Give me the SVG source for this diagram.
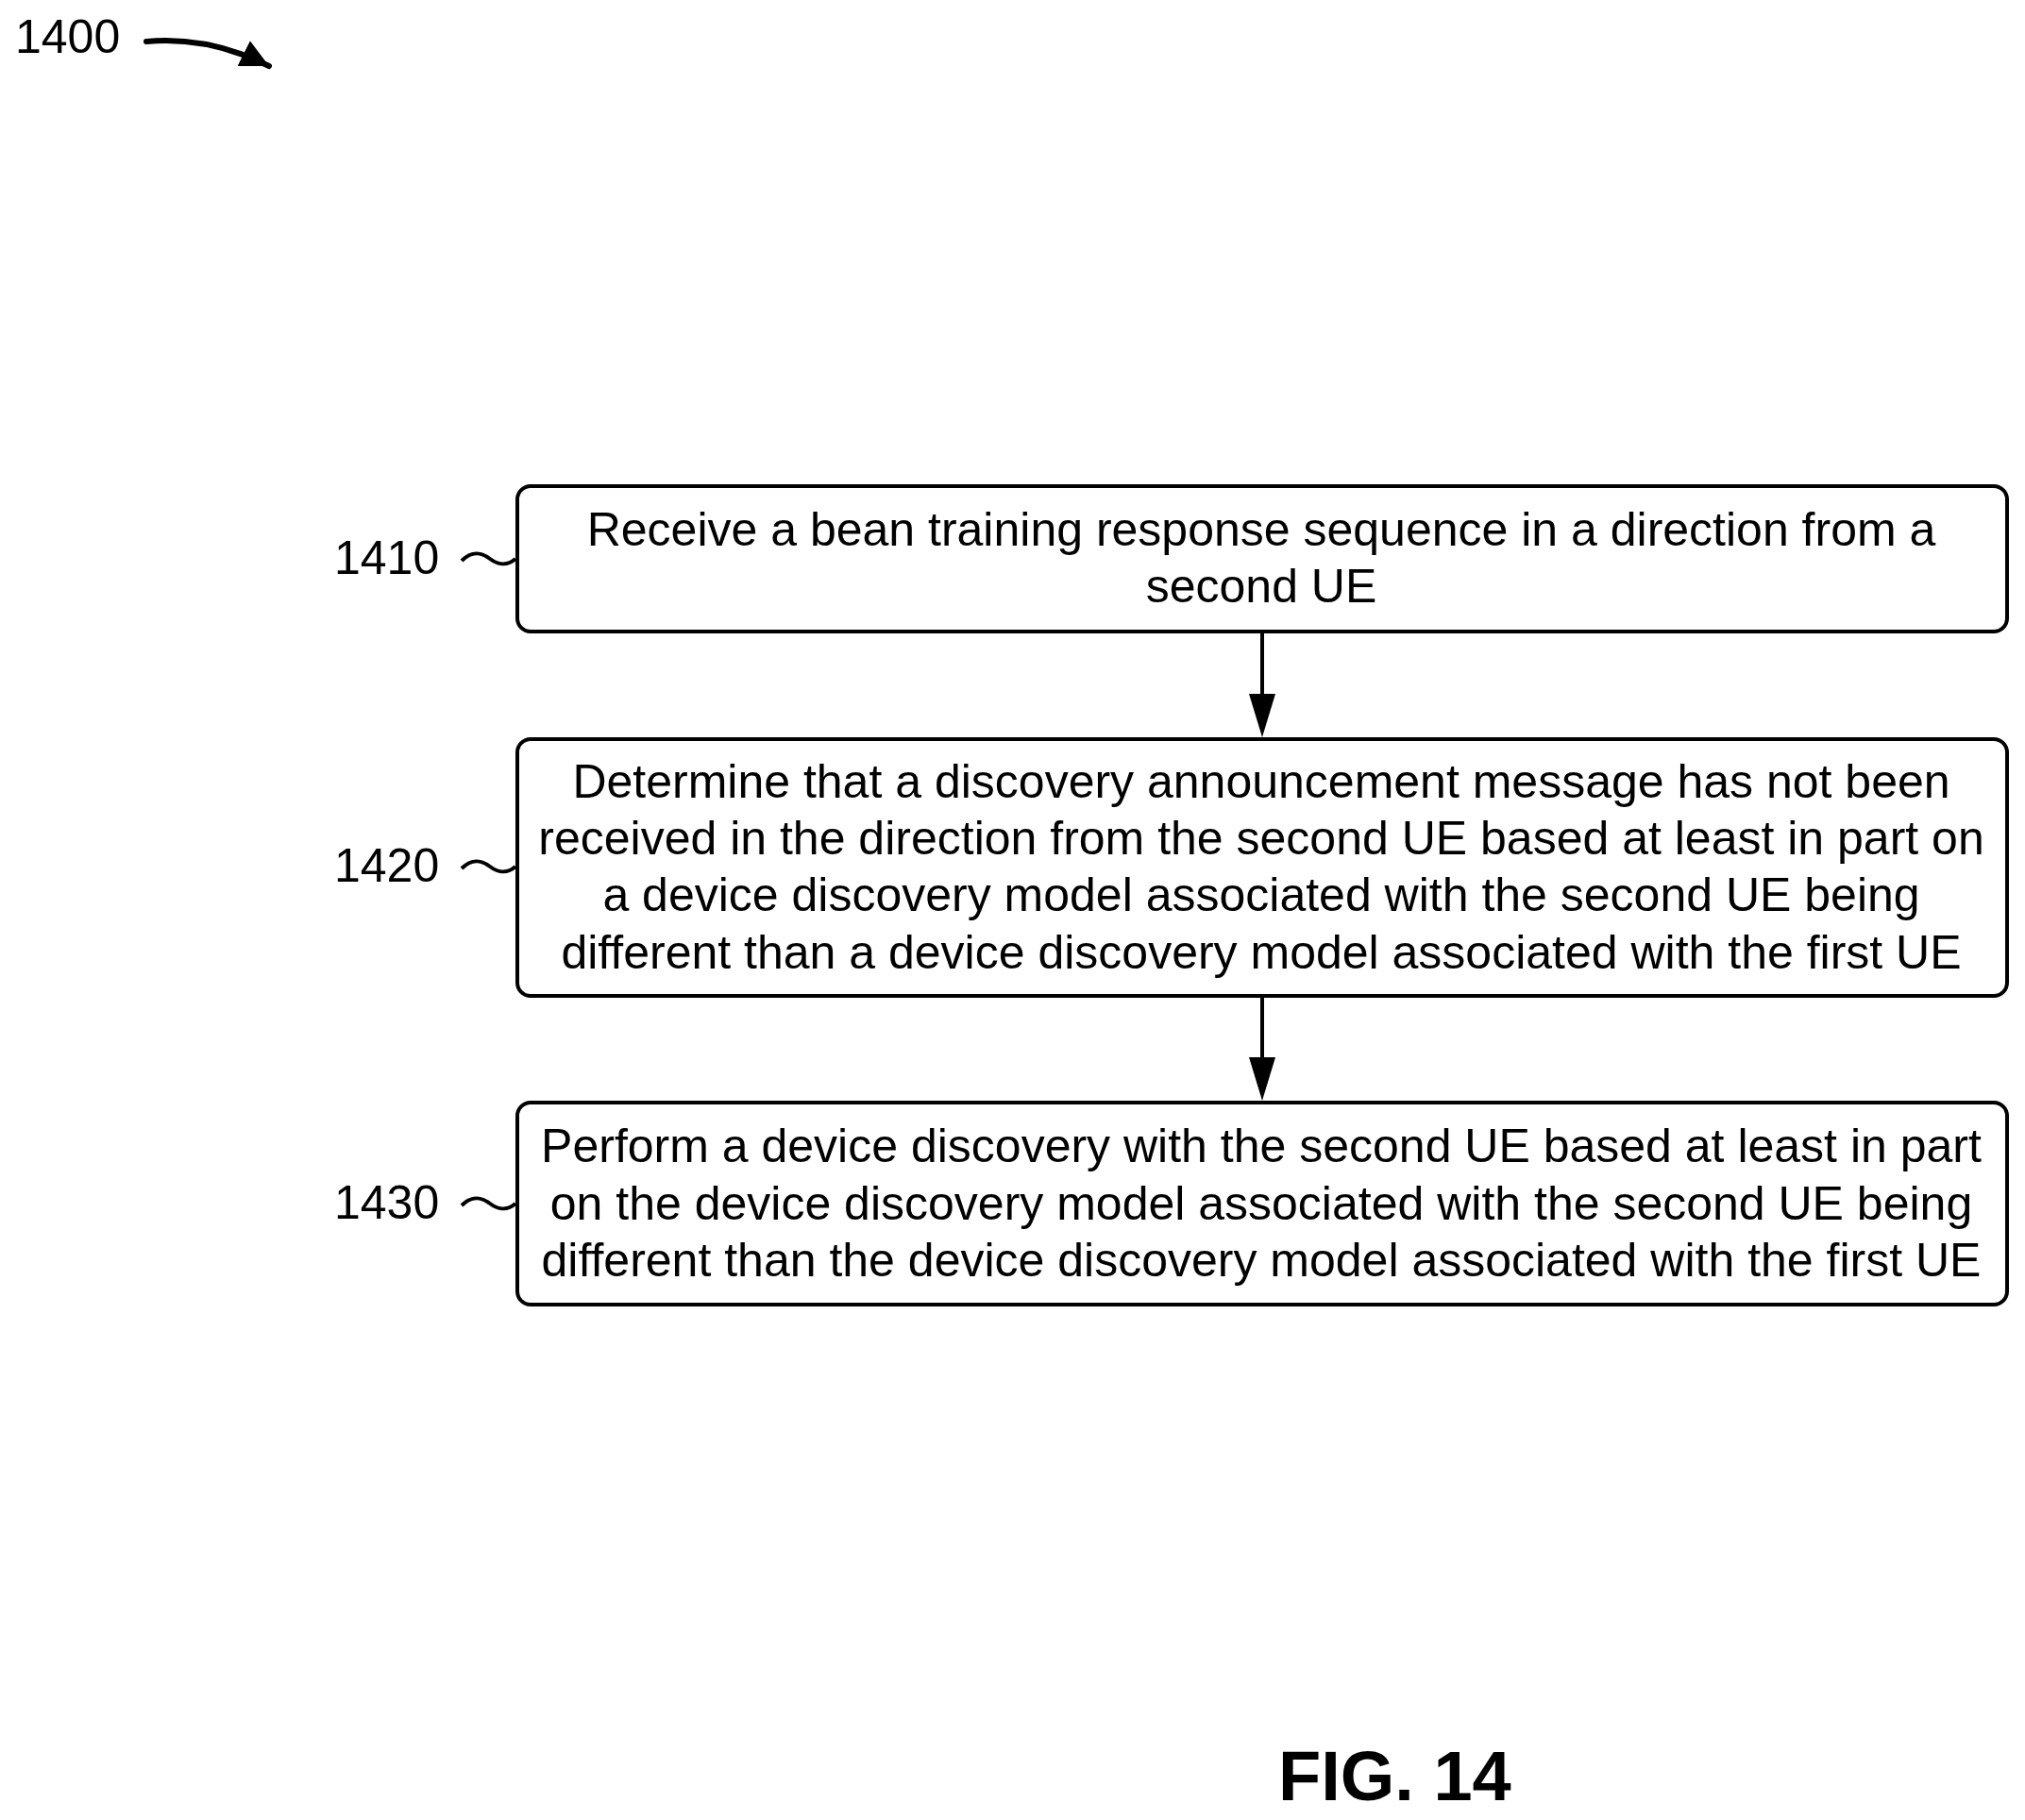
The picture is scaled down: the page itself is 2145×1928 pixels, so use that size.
<svg xmlns="http://www.w3.org/2000/svg" width="2145" height="1928" viewBox="0 0 2145 1928">
<style>
text{font-family:"Liberation Sans",Arial,sans-serif;fill:#000}
.t{font-size:50px;text-anchor:middle}
.l{font-size:50px}
.box{fill:#fff;stroke:#000;stroke-width:4}
.c{fill:none;stroke:#000;stroke-width:4}
</style>
<defs>
<marker id="ah2" viewBox="0 0 30 30" refX="30" refY="15" markerWidth="30" markerHeight="30" markerUnits="userSpaceOnUse" orient="auto"><path d="M0,0L30,15L0,30z"/></marker></defs>
<rect width="2145" height="1928" fill="#fff"/>
<g id="ref"><text class="l" x="16" y="56">1400</text>
<path d="M155,44 C200,40 245,50 285,70" fill="none" stroke="#000" stroke-width="6" stroke-linecap="round" marker-end="url(#ah2)"/></g>
<g id="n1410"><rect class="box" x="548" y="515" width="1578" height="154" rx="14"/>
<text class="t" x="1336" y="578">Receive a bean training response sequence in a direction from a</text>
<text class="t" x="1336" y="638">second UE</text>
<text class="l" x="354" y="608">1410</text><path class="c" d="M489,594 c12,-12 22,-8 30,-2 s18,8 27,0"/></g>
<g id="n1420"><rect class="box" x="548" y="783" width="1578" height="272" rx="14"/>
<text class="t" x="1336" y="845">Determine that a discovery announcement message has not been</text>
<text class="t" x="1336" y="905">received in the direction from the second UE based at least in part on</text>
<text class="t" x="1336" y="965">a device discovery model associated with the second UE being</text>
<text class="t" x="1336" y="1026">different than a device discovery model associated with the first UE</text>
<text class="l" x="354" y="934">1420</text><path class="c" d="M489,920 c12,-12 22,-8 30,-2 s18,8 27,0"/></g>
<g id="n1430"><rect class="box" x="548" y="1168" width="1578" height="214" rx="14"/>
<text class="t" x="1336" y="1231">Perform a device discovery with the second UE based at least in part</text>
<text class="t" x="1336" y="1292">on the device discovery model associated with the second UE being</text>
<text class="t" x="1336" y="1352">different than the device discovery model associated with the first UE</text>
<text class="l" x="354" y="1291">1430</text><path class="c" d="M489,1277 c12,-12 22,-8 30,-2 s18,8 27,0"/></g>
<g id="connectors">
<line class="c" x1="1337" y1="669" x2="1337" y2="735"/><path d="M1323,735L1351,735L1337,781z"/>
<line class="c" x1="1337" y1="1055" x2="1337" y2="1120"/><path d="M1323,1120L1351,1120L1337,1166z"/>
</g>
<text x="1354" y="1907" style="font-size:74px;font-weight:bold">FIG. 14</text>
</svg>
